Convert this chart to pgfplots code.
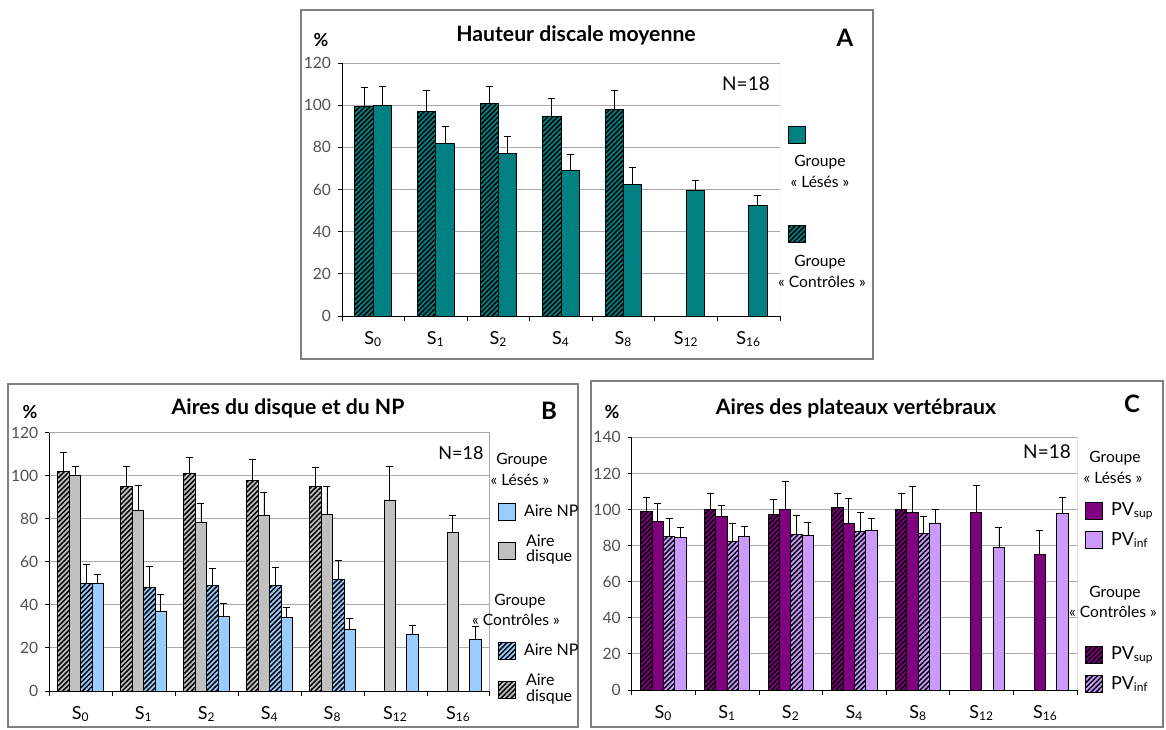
\documentclass[border=0pt]{standalone}
\usepackage{fontspec}
\setmainfont{Lato}
\usepackage{pgfplots}
\pgfplotsset{compat=1.18}
\usetikzlibrary{patterns.meta}
\definecolor{tealc}{HTML}{008080}
\definecolor{gris}{HTML}{C0C0C0}
\definecolor{bleu}{HTML}{99CCFF}
\definecolor{violet}{HTML}{800080}
\definecolor{lilas}{HTML}{CC99FF}
\definecolor{gridc}{HTML}{A8A8A8}
\definecolor{framec}{HTML}{808080}
\definecolor{tickc}{HTML}{505050}
\tikzset{hatch/.style={postaction={pattern={Lines[angle=45,distance=1.75pt,line width=0.75pt]},pattern color=black}}}
\pgfplotsset{panel/.style={
  scale only axis, ybar=0pt, ymin=0,
  xmin=-0.5, xmax=6.5, enlarge x limits=false,
  xtick={0,...,6},
  xticklabels={S\textsubscript{0},S\textsubscript{1},S\textsubscript{2},S\textsubscript{4},S\textsubscript{8},S\textsubscript{12},S\textsubscript{16}},
  minor xtick={-0.5,0.5,...,6.5},
  axis lines*=left, axis line style={black, line width=0.5pt},
  tick align=outside,
  major x tick style={draw=none},
  minor x tick style={black,line width=0.5pt},
  minor tick length=2.5pt, major tick length=2pt,
  ytick style={black,line width=0.5pt},
  ymajorgrids, grid style={gridc, line width=0.5pt},
  yticklabel style={font=\fontsize{7.8}{8}\selectfont, text=tickc},
  xticklabel style={font=\fontsize{9}{10}\selectfont, text=black, yshift=-2pt},
  /pgf/number format/assume math mode=true,
  error bars/y dir=plus, error bars/y explicit,
  error bars/error bar style={black,line width=0.4pt},
  error bars/error mark options={rotate=90, mark size=1.75pt, black, line width=0.4pt},
}}
\begin{document}
\begin{tikzpicture}[x=0.5pt,y=-0.5pt]
\useasboundingbox (0,0) rectangle (1166,729);
% frames
\draw[framec, line width=0.75pt] (301,10) rectangle (873,359);
\draw[framec, line width=0.75pt] (8,384) rectangle (578,727);
\draw[framec, line width=0.75pt] (591,381) rectangle (1163,727);

% ---------------- Panel A
\begin{axis}[panel, at={(171pt,-158pt)}, anchor=south west,
  width=219pt, height=126.5pt, ymax=120, ytick={0,20,...,120}, bar width=9.15pt]
\addplot[draw=black, line width=0.5pt, fill=tealc, hatch] table[x=x,y=y,y error=e]{
x y e
0 99.5 9.0
1 97.0 10.0
2 100.7 8.3
3 94.8 8.4
4 97.8 9.0
};
\addplot[draw=black, line width=0.5pt, fill=tealc] table[x=x,y=y,y error=e]{
x y e
0 99.8 9.1
1 81.7 8.3
2 77.2 7.8
3 69.2 7.5
4 62.6 7.9
5 59.6 4.6
6 52.6 4.7
};
\draw[gridc, line width=0.5pt] (rel axis cs:1,0) -- (rel axis cs:1,1);
\end{axis}
\node[font=\bfseries\fontsize{9}{10}\selectfont] at (321,40) {\%};
\node[font=\bfseries\fontsize{10.6}{12}\selectfont] at (576,35) {Hauteur discale moyenne};
\node[font=\bfseries\fontsize{12}{14}\selectfont] at (845,38) {A};
\node[font=\fontsize{9.5}{11}\selectfont] at (746,84) {N=18};
\draw[fill=tealc, line width=0.5pt] (788,126) rectangle (805,143);
\node[font=\fontsize{7.8}{9}\selectfont] at (820,162) {Groupe};
\node[font=\fontsize{7.8}{9}\selectfont] at (820,182) {« Lésés »};
\draw[fill=tealc, line width=0.5pt, hatch] (788,225) rectangle (805,242);
\node[font=\fontsize{7.8}{9}\selectfont] at (820,262) {Groupe};
\node[font=\fontsize{7.8}{9}\selectfont] at (822,282) {« Contrôles »};

% ---------------- Panel B
\begin{axis}[panel, at={(24.65pt,-345.5pt)}, anchor=south west,
  width=220.35pt, height=129.15pt, ymax=120, ytick={0,20,...,120}, bar width=5.7pt]
\addplot[draw=black, line width=0.5pt, fill=gris, hatch] table[x=x,y=y,y error=e]{
x y e
0 102.2 8.8
1 95.1 9.3
2 101.1 7.4
3 98.0 9.6
4 95.1 8.8
};
\addplot[draw=black, line width=0.5pt, fill=gris] table[x=x,y=y,y error=e]{
x y e
0 99.9 4.6
1 83.9 11.6
2 78.4 8.6
3 81.4 10.7
4 82.2 12.7
5 88.4 15.8
6 73.7 7.7
};
\addplot[draw=black, line width=0.5pt, fill=bleu, hatch] table[x=x,y=y,y error=e]{
x y e
0 50.0 9.0
1 48.0 9.8
2 48.8 8.0
3 48.8 8.5
4 52.0 8.9
};
\addplot[draw=black, line width=0.5pt, fill=bleu] table[x=x,y=y,y error=e]{
x y e
0 50.0 4.2
1 37.0 8.0
2 34.8 5.8
3 34.1 4.6
4 28.6 5.0
5 26.3 4.4
6 24.0 6.2
};
\draw[gridc, line width=0.5pt] (rel axis cs:1,0) -- (rel axis cs:1,1);
\end{axis}
\node[font=\bfseries\fontsize{9}{10}\selectfont] at (30,412) {\%};
\node[font=\bfseries\fontsize{10.6}{12}\selectfont] at (288,408) {Aires du disque et du NP};
\node[font=\bfseries\fontsize{12}{14}\selectfont] at (549,411) {B};
\node[font=\fontsize{9}{11}\selectfont] at (461,453) {N=18};
\node[font=\fontsize{7.8}{9}\selectfont] at (522,460) {Groupe};
\node[font=\fontsize{7.8}{9}\selectfont] at (520,480) {« Lésés »};
\draw[fill=bleu, line width=0.5pt] (498,503) rectangle (515,520);
\node[font=\fontsize{8}{9}\selectfont, anchor=west] at (517,511) {Aire NP};
\draw[fill=gris, line width=0.5pt] (498,542) rectangle (515,559);
\node[font=\fontsize{8}{9}\selectfont, anchor=west] at (519,541) {Aire};
\node[font=\fontsize{8}{9}\selectfont, anchor=west] at (519,557) {disque};
\node[font=\fontsize{7.8}{9}\selectfont] at (520,601) {Groupe};
\node[font=\fontsize{7.8}{9}\selectfont] at (516,620) {« Contrôles »};
\draw[fill=bleu, line width=0.5pt, hatch] (498,642) rectangle (515,659);
\node[font=\fontsize{8}{9}\selectfont, anchor=west] at (517,650) {Aire NP};
\draw[fill=gris, line width=0.5pt, hatch] (498,681) rectangle (515,698);
\node[font=\fontsize{8}{9}\selectfont, anchor=west] at (519,680) {Aire};
\node[font=\fontsize{8}{9}\selectfont, anchor=west] at (519,697) {disque};

% ---------------- Panel C
\begin{axis}[panel, at={(315.85pt,-345pt)}, anchor=south west,
  width=222.8pt, height=126.35pt, ymax=140, ytick={0,20,...,140}, bar width=5.7pt]
\addplot[draw=black, line width=0.5pt, fill=violet, hatch] table[x=x,y=y,y error=e]{
x y e
0 99.0 7.9
1 100.1 8.7
2 97.3 8.4
3 101.2 7.6
4 100.1 8.7
};
\addplot[draw=black, line width=0.5pt, fill=violet] table[x=x,y=y,y error=e]{
x y e
0 93.3 10.1
1 96.2 6.1
2 100.1 15.2
3 92.4 14.0
4 98.6 14.3
5 98.1 15.3
6 74.8 13.8
};
\addplot[draw=black, line width=0.5pt, fill=lilas, hatch] table[x=x,y=y,y error=e]{
x y e
0 85.1 10.2
1 82.4 10.0
2 86.1 10.7
3 87.9 10.4
4 86.6 9.6
};
\addplot[draw=black, line width=0.5pt, fill=lilas] table[x=x,y=y,y error=e]{
x y e
0 84.6 5.4
1 85.0 5.5
2 85.7 7.0
3 88.5 6.6
4 92.4 7.7
5 79.1 10.9
6 97.9 8.9
};
\draw[gridc, line width=0.5pt] (rel axis cs:1,0) -- (rel axis cs:1,1);
\end{axis}
\node[font=\bfseries\fontsize{9}{10}\selectfont] at (612,412) {\%};
\node[font=\bfseries\fontsize{10.6}{12}\selectfont] at (856,408) {Aires des plateaux vertébraux};
\node[font=\bfseries\fontsize{12}{14}\selectfont] at (1132,404) {C};
\node[font=\fontsize{9.5}{11}\selectfont] at (1047,452) {N=18};
\node[font=\fontsize{7.8}{9}\selectfont] at (1115,458) {Groupe};
\node[font=\fontsize{7.8}{9}\selectfont] at (1113,478) {« Lésés »};
\draw[fill=violet, line width=0.5pt] (1085,502) rectangle (1102,519);
\node[font=\fontsize{9}{10}\selectfont, anchor=west] at (1104,511) {PV\textsubscript{sup}};
\draw[fill=lilas, line width=0.5pt] (1085,531) rectangle (1102,548);
\node[font=\fontsize{9}{10}\selectfont, anchor=west] at (1104,540) {PV\textsubscript{inf}};
\node[font=\fontsize{7.8}{9}\selectfont] at (1115,593) {Groupe};
\node[font=\fontsize{7.8}{9}\selectfont] at (1113,612) {« Contrôles »};
\draw[fill=violet, line width=0.5pt, hatch] (1085,646) rectangle (1102,663);
\node[font=\fontsize{9}{10}\selectfont, anchor=west] at (1104,655) {PV\textsubscript{sup}};
\draw[fill=lilas, line width=0.5pt, hatch] (1085,675) rectangle (1102,692);
\node[font=\fontsize{9}{10}\selectfont, anchor=west] at (1104,684) {PV\textsubscript{inf}};
\end{tikzpicture}
\end{document}
